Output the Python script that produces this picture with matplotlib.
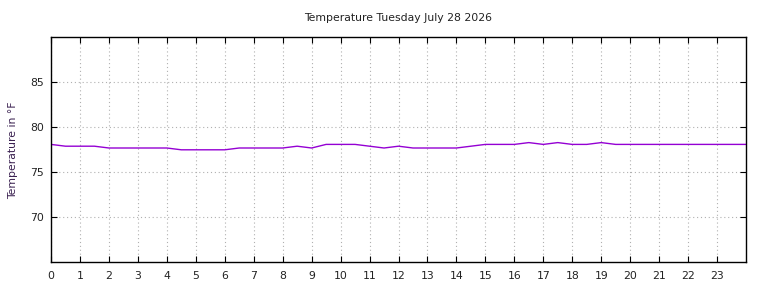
#!/usr/bin/env python3
"""Temperature over one day, gnuplot-like look."""

import matplotlib
matplotlib.use("Agg")
from matplotlib import pyplot as plt

# half-hourly samples
hours = [0, 0.5, 1, 1.5, 2, 2.5, 3, 3.5, 4, 4.5, 5, 5.5, 6, 6.5, 7, 7.5,
         8, 8.5, 9, 9.5, 10, 10.5, 11, 11.5, 12, 12.5, 13, 13.5, 14, 14.5,
         15, 15.5, 16, 16.5, 17, 17.5, 18, 18.5, 19, 19.5, 20, 20.5, 21,
         21.5, 22, 22.5, 23, 23.5, 24]
temps_f = [78.1, 77.9, 77.9, 77.9, 77.7, 77.7, 77.7, 77.7, 77.7, 77.5,
           77.5, 77.5, 77.5, 77.7, 77.7, 77.7, 77.7, 77.9, 77.7, 78.1,
           78.1, 78.1, 77.9, 77.7, 77.9, 77.7, 77.7, 77.7, 77.7, 77.9,
           78.1, 78.1, 78.1, 78.3, 78.1, 78.3, 78.1, 78.1, 78.3, 78.1,
           78.1, 78.1, 78.1, 78.1, 78.1, 78.1, 78.1, 78.1, 78.1]
x_ticks = list(range(24))
y_ticks = [70, 75, 80, 85]
title = "Temperature Tuesday July 28 2026"
ylabel = "Temperature in \u00b0F"

fs = 7.8
text_color = "#222222"

fig = plt.figure(figsize=(7.68, 2.88), dpi=100)
ax = fig.add_axes([51 / 768, 25.7 / 288, 695 / 768, 225 / 288])

ax.plot(hours, temps_f, color="#9400d3", linewidth=1.0)

ax.set_xlim(0, 24)
ax.set_ylim(65, 90)
ax.set_xticks(x_ticks)
ax.set_yticks(y_ticks)
ax.grid(True, color="#b0b0b0", linestyle=(0, (1, 2.5)), linewidth=0.8)

ax.tick_params(direction="in", length=4, width=0.8, top=True, right=True,
               labelsize=fs, labelcolor=text_color)
ax.tick_params(axis="x", pad=6)
ax.tick_params(axis="y", pad=5)
for spine in ax.spines.values():
    spine.set_linewidth(1.0)

ax.set_ylabel(ylabel, fontsize=fs, color="#3a2050", labelpad=9)
fig.text(398.5 / 768, 1 - 18 / 288, title, ha="center", va="center",
         fontsize=fs, color=text_color)

fig.savefig("out.png", dpi=100)
